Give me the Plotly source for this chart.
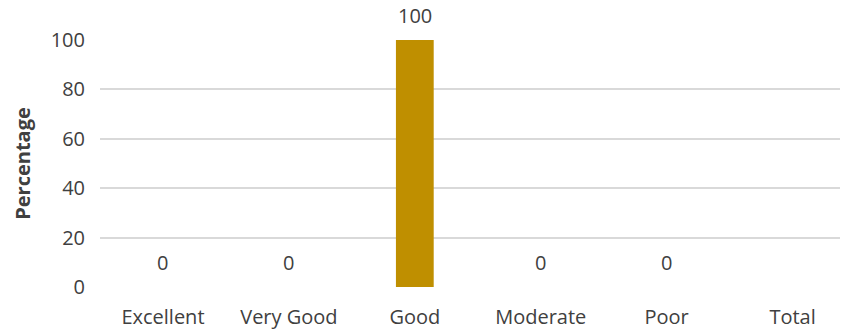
import plotly.graph_objects as go

categories = ["Excellent", "Very Good", "Good", "Moderate", "Poor", "Total"]
percentages = [0, 0, 100, 0, 0, None]
y_ticks = [0, 20, 40, 60, 80, 100]

_FONT = "'Open Sans', 'Noto Sans', sans-serif"
_TEXT = "#404040"
_SIZE = 20

fig = go.Figure()

fig.add_trace(go.Bar(
    x=categories, y=percentages,
    marker={"color": "#BF8F00", "line": {"width": 0}},
    width=0.3,
    hoverinfo="x+y",
))

# data labels sit well above the bar top, Excel style
for cat, val in zip(categories, percentages):
    if val is None:
        continue
    fig.add_annotation(
        x=cat, y=val, text=str(val),
        showarrow=False, yshift=25, yanchor="middle",
        font={"size": _SIZE, "color": _TEXT, "family": _FONT},
    )

# page body has an 8px margin, so the figure is 8px smaller each way
fig.update_layout(
    width=840, height=321,
    paper_bgcolor="white", plot_bgcolor="white",
    margin={"l": 92, "r": 0, "t": 32, "b": 42},
    showlegend=False,
    font={"family": _FONT, "color": _TEXT, "size": _SIZE},
    xaxis={
        "range": [-0.5, 5.44],
        "showgrid": False, "zeroline": False, "showline": False,
        "ticks": "outside", "ticklen": 12, "tickcolor": "rgba(0,0,0,0)",
        "tickfont": {"size": _SIZE, "color": _TEXT},
    },
    yaxis={
        "range": [0, 100],
        "tickvals": y_ticks,
        "showgrid": True, "gridcolor": "#D9D9D9", "gridwidth": 2,
        "zeroline": False, "showline": False,
        "ticks": "outside", "ticklen": 10, "tickcolor": "rgba(0,0,0,0)",
        "tickfont": {"size": _SIZE, "color": _TEXT},
        "title": {"text": "<b>Percentage</b>", "font": {"size": _SIZE, "color": _TEXT}, "standoff": 14},
    },
)

fig.write_html("out.html")
